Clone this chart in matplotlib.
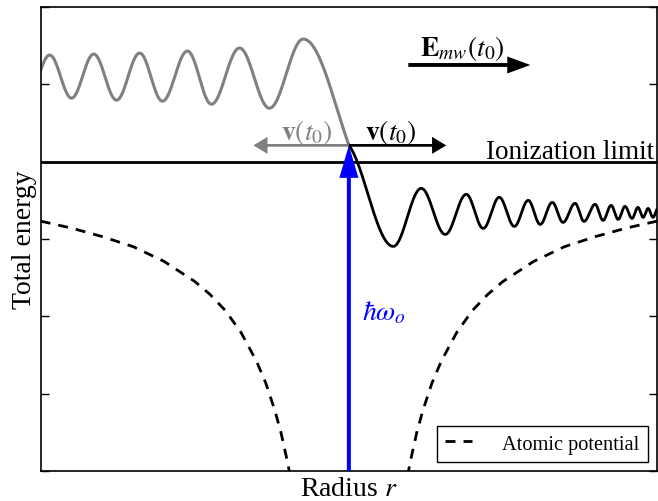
import numpy as np
import matplotlib
matplotlib.use("Agg")
import matplotlib.pyplot as plt

plt.rcParams['font.family'] = ['Liberation Serif', 'DejaVu Serif']
plt.rcParams['mathtext.fontset'] = 'stix'

# ---- data (x: radius, y: energy; ionization limit at 0) ----
# atomic potential, sampled points (left branch mirrors right branch)
pot_r = [0.19, 0.20, 0.22, 0.24, 0.27, 0.30, 0.35, 0.40, 0.45, 0.50, 0.60, 0.70, 0.80, 0.90, 1.00]
pot_v = [-4.07, -3.87, -3.51, -3.22, -2.86, -2.58, -2.21, -1.93, -1.72, -1.55, -1.29, -1.10, -0.97, -0.86, -0.77]

# grey wavefunction (left side): extrema positions / values
grey_x = [-1.042, -0.971, -0.900, -0.828, -0.754, -0.679, -0.605, -0.524, -0.446, -0.355, -0.258, -0.148, 0.070]
grey_y = [0.834, 1.378, 0.821, 1.391, 0.795, 1.404, 0.782, 1.430, 0.743, 1.469, 0.691, 1.585, -0.203]

# black wavefunction (right side): extrema positions / values
black_x = [-0.021, 0.144, 0.235, 0.313, 0.381, 0.436, 0.488, 0.537, 0.582, 0.621, 0.660, 0.695,
           0.734, 0.763, 0.799, 0.825, 0.851, 0.874, 0.896, 0.919, 0.938, 0.955, 0.971, 0.987, 1.003]
black_y = [0.265, -1.097, -0.346, -0.942, -0.423, -0.864, -0.462, -0.838, -0.501, -0.812, -0.527, -0.786,
           -0.540, -0.773, -0.553, -0.760, -0.566, -0.747, -0.579, -0.734, -0.592, -0.721, -0.605, -0.721, -0.605]

ionization_limit = 0.0
launch_energy = 0.21      # energy where the photon arrow ends
photon_start = -4.0
v_arrow_len = 0.31
field_arrow = [0.193, 0.589]
field_y = 1.25


def through_extrema(xk, yk, x0, x1, n=3000):
    xk = np.asarray(xk, float)
    yk = np.asarray(yk, float)
    xs = np.linspace(x0, x1, n)
    idx = np.clip(np.searchsorted(xk, xs, side='right') - 1, 0, len(xk) - 2)
    t = (xs - xk[idx]) / (xk[idx + 1] - xk[idx])
    ys = yk[idx] + (yk[idx + 1] - yk[idx]) * (1 - np.cos(np.pi * t)) / 2
    return xs, ys


fig = plt.figure(figsize=(6.58, 5.02), dpi=100)
ax = fig.add_axes([0.0619, 0.0600, 0.9366, 0.9241])

# potential
pr = np.array(pot_r)
pv = np.array(pot_v)
dash = (3.6, 2.9)
ax.plot(-pr, pv, color='black', lw=2, ls=(0, dash), label='Atomic potential')
ax.plot(pr, pv, color='black', lw=2, ls=(0, dash))

# ionization limit
ax.axhline(ionization_limit, color='black', lw=2)
ax.text(0.995, ionization_limit + 0.05, 'Ionization limit', ha='right', va='baseline',
        fontsize=19.6, transform=ax.get_yaxis_transform())

# waves
gx, gy = through_extrema(grey_x, grey_y, -1.0, 0.0)
ax.plot(gx, gy, color='gray', lw=2.2)
bx, by = through_extrema(black_x, black_y, 0.0, 1.0)
ax.plot(bx, by, color='black', lw=2)

# photon arrow
ax.arrow(0, photon_start, 0, launch_energy - photon_start, width=0.013, head_width=0.062,
         head_length=0.42, length_includes_head=True, color='blue', lw=0, zorder=5)
ax.text(0.044, -1.94, r'$\hbar\omega_o$', color='blue', fontsize=20, ha='left', va='center')

# velocity arrows
ax.arrow(0, launch_energy, v_arrow_len + 0.006, 0, width=0.035, head_width=0.22, head_length=0.046,
         length_includes_head=True, color='black', lw=0, zorder=4)
ax.arrow(0, launch_energy, -v_arrow_len, 0, width=0.035, head_width=0.22, head_length=0.046,
         length_includes_head=True, color='gray', lw=0, zorder=4)
ax.text(0.135, 0.39, r'$\mathbf{v}(t_0)$', fontsize=20, ha='center', va='center', color='black')
ax.text(-0.138, 0.39, r'$\mathbf{v}(t_0)$', fontsize=20, ha='center', va='center', color='gray')

# field arrow
ax.arrow(field_arrow[0], field_y, field_arrow[1] - field_arrow[0], 0, width=0.05, head_width=0.22,
         head_length=0.075, length_includes_head=True, color='black', lw=0)
ax.text(0.37, 1.47, r'$\mathbf{E}_{mw}(t_0)$', fontsize=20, ha='center', va='center')

ax.set_xlim(-1, 1)
ax.set_ylim(-4, 2)
ax.set_xticks([])
ax.set_yticks(range(-4, 3))
ax.set_yticklabels([])
ax.tick_params(axis='y', direction='in', left=True, right=True, length=6, width=1)
for s in ax.spines.values():
    s.set_linewidth(1.2)

ax.set_xlabel(r'Radius $r$', fontsize=20, labelpad=4)
ax.set_ylabel('Total energy', fontsize=20, labelpad=-1)

leg = ax.legend(loc='lower right', fontsize=14.7, handlelength=1.3, handletextpad=1.5,
                borderpad=0.4, borderaxespad=0.45, fancybox=False, framealpha=1)
leg.get_frame().set_edgecolor('black')
leg.get_frame().set_linewidth(1)

fig.savefig('out.png', dpi=100)
